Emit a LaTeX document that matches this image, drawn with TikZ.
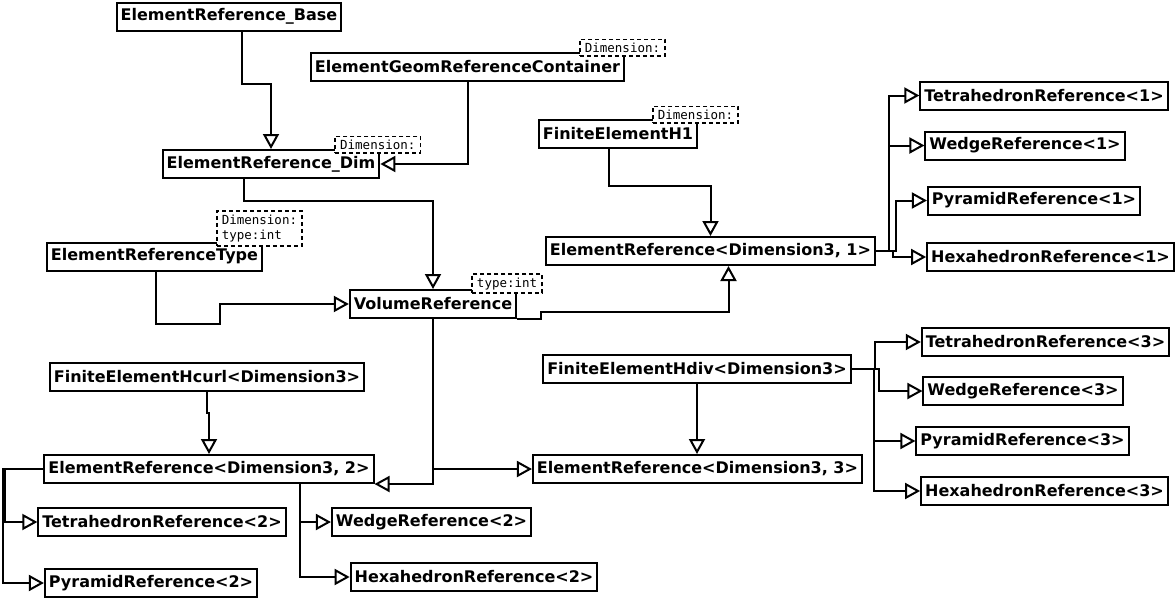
\documentclass[tikz,border=0pt]{standalone}
\usepackage{fontspec}
\setmainfont{DejaVu Sans}
\newfontfamily\parammono{DejaVu Sans Mono}
\usepackage{tikz}
\usetikzlibrary{arrows.meta, calc, positioning}
\tikzset{
	paramtext/.style={font=\parammono\fontsize{12.5}{15.5}\selectfont}
}
\tikzset{
	classtext/.style={font=\fontsize{16}{18}\selectfont\bfseries}
}

\begin{document}
\begin{tikzpicture}[x=1pt, y=-1pt, line width=2pt,
    cls/.style={draw, classtext, fill=white, inner xsep=4pt, inner ysep=0pt, minimum height=28pt},
    tparam/.style={draw, line width=1.6pt, dash pattern=on 4pt off 3pt, paramtext, fill=white, align=left, inner xsep=5pt, inner ysep=3.5pt, anchor=south west},
    inh/.style={-{Triangle[open, length=15pt, width=16pt]}}]
  \useasboundingbox (0,0) rectangle (1176,600);
  % classes
  \node[cls] (base) at (229,16.5) {ElementReference\_Base};
  \node[cls] (cont) at (467.5,67) {ElementGeomReferenceContainer};
  \node[cls] (dim) at (271,164) {ElementReference\_Dim};
  \node[cls] (h1) at (618,134) {FiniteElementH1};
  \node[cls] (type) at (154.5,256.5) {ElementReferenceType};
  \node[cls] (vol) at (433,304) {VolumeReference};
  \node[cls] (er1) at (710.5,251) {ElementReference<Dimension3, 1>};
  \node[cls] (t1) at (1044,95.5) {TetrahedronReference<1>};
  \node[cls] (w1) at (1025,145.5) {WedgeReference<1>};
  \node[cls] (p1) at (1034,200.5) {PyramidReference<1>};
  \node[cls] (x1) at (1050.5,257) {HexahedronReference<1>};
  \node[cls] (hcurl) at (207,377) {FiniteElementHcurl<Dimension3>};
  \node[cls] (hdiv) at (697,369) {FiniteElementHdiv<Dimension3>};
  \node[cls] (t3) at (1045.5,342) {TetrahedronReference<3>};
  \node[cls] (w3) at (1023,391) {WedgeReference<3>};
  \node[cls] (p3) at (1022.5,441) {PyramidReference<3>};
  \node[cls] (x3) at (1044.5,491) {HexahedronReference<3>};
  \node[cls] (er2) at (209,469) {ElementReference<Dimension3, 2>};
  \node[cls] (er3) at (697.5,469) {ElementReference<Dimension3, 3>};
  \node[cls] (t2) at (162,522) {TetrahedronReference<2>};
  \node[cls] (w2) at (431.5,522) {WedgeReference<2>};
  \node[cls] (x2) at (474,577) {HexahedronReference<2>};
  \node[cls] (p2) at (151,583) {PyramidReference<2>};

  % template parameters
  \node[tparam] (contT) at ([shift={(-46,5)}]cont.north east) {Dimension:};
  \node[tparam] (dimT) at ([shift={(-46,5)}]dim.north east) {Dimension:};
  \node[tparam] (h1T) at ([shift={(-46,5)}]h1.north east) {Dimension:};
  \node[tparam] (typeT) at ([shift={(-47,5)}]type.north east) {Dimension:\\type:int};
  \node[tparam] (volT) at ([shift={(-46,5)}]vol.north east) {type:int};

  % inheritance
  \draw[inh] ([xshift=13]base.south) -- ++(0,52) -| (dim.north);
  \draw[inh] (cont.south) |- (dim.east);
  \draw[inh] ([xshift=-27]dim.south) -- ++(0,22) -| (vol.north);
  \draw[inh] ([xshift=1.5]type.south) -- ++(0,52) -- ++(64,0) |- (vol.west);
  \draw[inh] (vol.south east) -- ++(24,0) -- ++(0,-7) -| ([xshift=18]er1.south);
  \draw[inh] ([xshift=-9]h1.south) -- ++(0,37) -| (er1.north);
  \draw[inh] (er1.east) -- ++(13,0) |- (t1.west);
  \draw[inh] (er1.east) -- ++(13,0) |- (w1.west);
  \draw[inh] (er1.east) -- ++(20,0) |- (p1.west);
  \draw[inh] (er1.east) -- ++(17,0) |- (x1.west);
  \draw[inh] (hdiv.south) -- (hdiv.south |- er3.north);
  \draw[inh] (hdiv.east) -- ++(23,0) |- (t3.west);
  \draw[inh] (hdiv.east) -- ++(27,0) |- (w3.west);
  \draw[inh] (hdiv.east) -- ++(22,0) |- (p3.west);
  \draw[inh] (hdiv.east) -- ++(22,0) |- (x3.west);
  \draw[inh] (vol.south) |- (er2.south east);
  \draw[inh] (vol.south) |- (er3.west);
  \draw[inh] (hcurl.south) -- ++(0,21) -| (er2.north);
  \draw[inh] (er2.west) -- ++(-38,0) |- (t2.west);
  \draw[inh] (er2.west) -- ++(-40,0) |- (p2.west);
  \draw[inh] ([xshift=91]er2.south) |- (w2.west);
  \draw[inh] ([xshift=91]er2.south) |- (x2.west);
\end{tikzpicture}
\end{document}
